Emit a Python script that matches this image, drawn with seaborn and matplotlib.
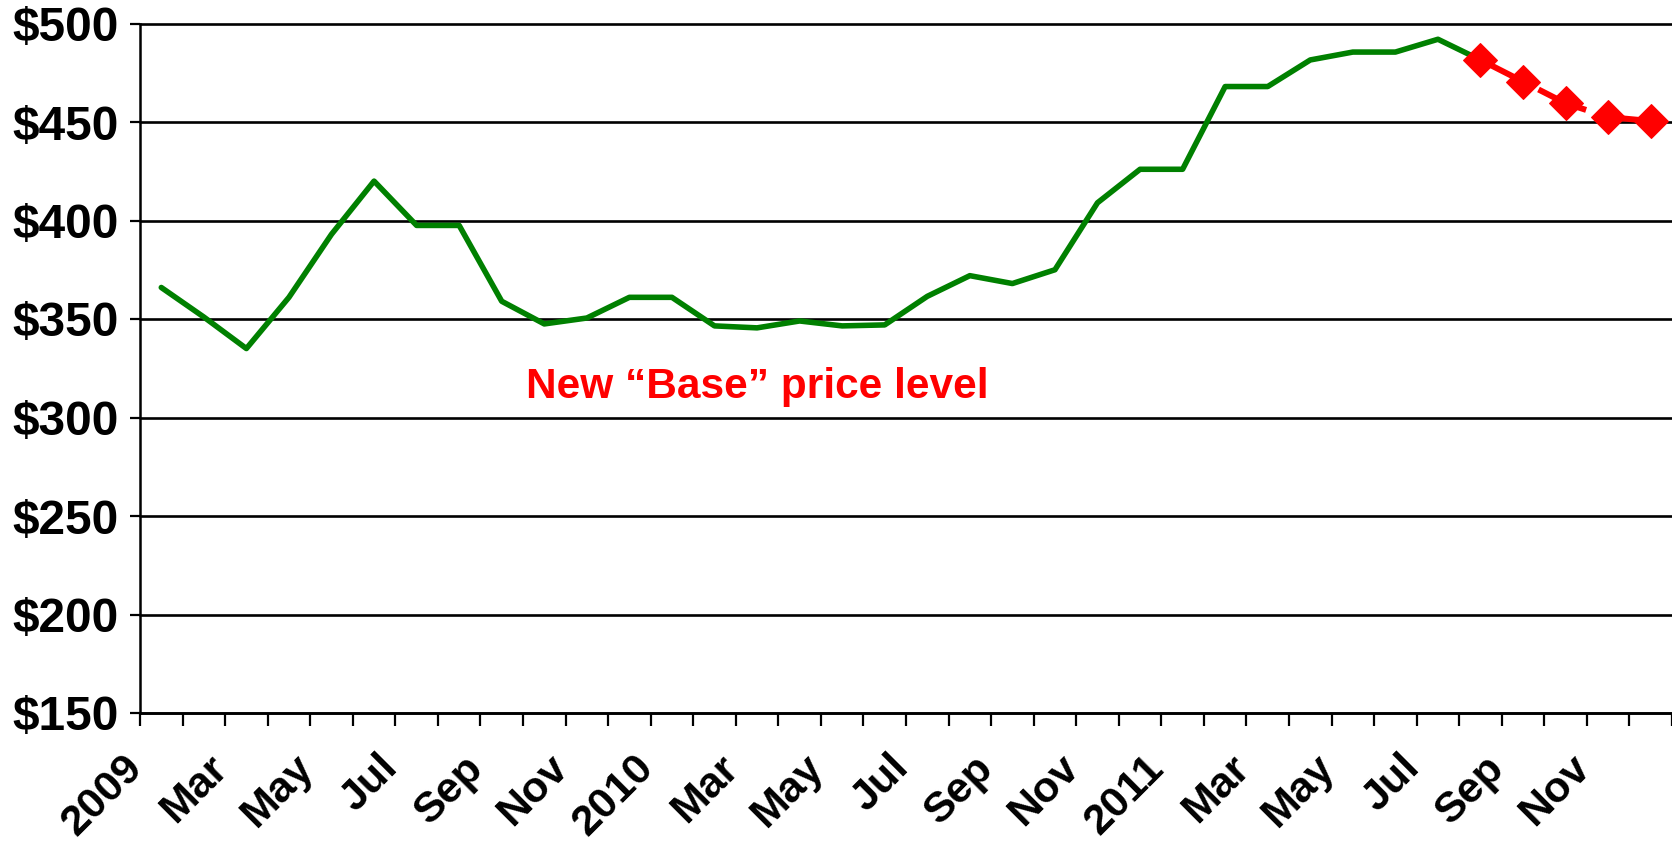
import numpy as np
import pandas as pd
import matplotlib
matplotlib.use("Agg")
import matplotlib.pyplot as plt
import matplotlib.transforms as mtransforms
from matplotlib.ticker import FuncFormatter
import seaborn as sns

months = ["Jan", "Feb", "Mar", "Apr", "May", "Jun", "Jul", "Aug", "Sep", "Oct", "Nov", "Dec"]
years = ["2009", "2010", "2011"]

# monthly price, Jan 2009 - Aug 2011
actual_prices = [366, 351, 335, 361, 393, 420, 397.5, 397.5, 359, 347.5, 350.5, 361,
                 361, 346.5, 345.5, 349, 346.5, 347, 361.5, 372, 368, 375, 409, 426,
                 426, 468, 468, 481.5, 485.5, 485.5, 492, 481.5]
# projection, Aug - Dec 2011
forecast_prices = [481.5, 470.5, 459.5, 452.5, 450.5]

y_ticks = [150, 200, 250, 300, 350, 400, 450, 500]
note = "New \u201cBase\u201d price level"

period_labels = [y if m == "Jan" else m for y in years for m in months]

actual = pd.DataFrame({"month": range(len(actual_prices)), "price": actual_prices})
start = len(actual_prices) - 1
forecast = pd.DataFrame({"month": range(start, start + len(forecast_prices)),
                         "price": forecast_prices})

sns.set_style("white")
plt.rcParams["font.family"] = ["Liberation Sans", "DejaVu Sans"]
plt.rcParams["font.weight"] = "bold"
plt.rcParams["text.color"] = "black"
plt.rcParams["xtick.color"] = "black"
plt.rcParams["ytick.color"] = "black"

fig = plt.figure(figsize=(16.72, 8.48), dpi=100)
ax = fig.add_axes([140 / 1672, 1 - 713 / 848, 1532 / 1672, (713 - 23.5) / 848])

sns.lineplot(data=actual, x="month", y="price", color="#008000", linewidth=4, ax=ax)
sns.lineplot(data=forecast, x="month", y="price", color="#ff0000", linewidth=4.3,
             marker="D", markersize=17, markeredgecolor="#ff0000", ax=ax)
ax.lines[-1].set_linestyle((0, (8.7, 2.2)))

ax.set_xlim(-0.5, len(period_labels) - 0.5)
ax.set_ylim(y_ticks[0], y_ticks[-1])
ax.set_yticks(y_ticks)
ax.yaxis.set_major_formatter(FuncFormatter(lambda v, _: f"${v:.0f}"))
ax.set_xlabel("")
ax.set_ylabel("")

ax.set_xticks(range(0, len(period_labels), 2))
ax.set_xticklabels(period_labels[::2], rotation=45, ha="right", va="top",
                   rotation_mode="anchor", fontsize=31, fontweight="bold")
ax.set_xticks(np.arange(-0.5, len(period_labels), 1), minor=True)
ax.tick_params(axis="x", which="major", bottom=True, length=0, pad=25)
ax.tick_params(axis="x", which="minor", bottom=True, length=9.2, width=1.6,
               direction="out", color="black")
ax.tick_params(axis="y", left=True, length=7.5, width=1.6, pad=7.5,
               labelsize=34.5, color="black")
for lab in ax.get_yticklabels():
    lab.set_fontweight("bold")

shift = mtransforms.ScaledTranslation(-0.39, 0, fig.dpi_scale_trans)
for lab in ax.get_xticklabels():
    lab.set_transform(lab.get_transform() + shift)

ax.yaxis.grid(True, color="black", linewidth=1.9)
ax.xaxis.grid(False)
ax.set_axisbelow(True)
for gl in ax.get_ygridlines():
    gl.set_clip_on(False)

for side in ["top", "right"]:
    ax.spines[side].set_visible(False)
for side in ["left", "bottom"]:
    ax.spines[side].set_color("black")
    ax.spines[side].set_linewidth(1.8)

ax.text(8.57, 309.7, note, color="#ff0000", fontsize=30.5, fontweight="bold",
        ha="left", va="baseline")

fig.savefig("out.png", dpi=100, facecolor="white")
